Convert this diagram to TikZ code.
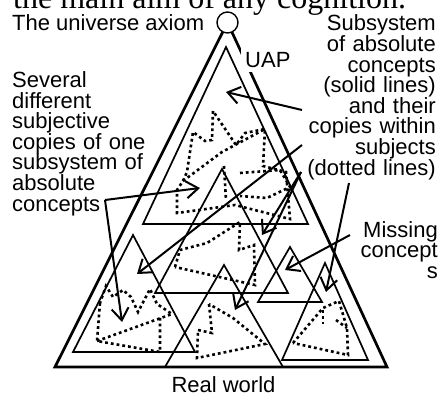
\documentclass[tikz,border=0pt]{standalone}
\usepackage{fontspec}
\setmainfont{Liberation Sans}
\newfontfamily\aimfont{Liberation Serif}
\usetikzlibrary{arrows.meta}
\tikzset{>={Straight Barb[length=12pt,width=17pt]},lbl/.style={font=\fontsize{22}{20.6}\selectfont,inner sep=0pt},big/.style={line width=2.7pt,line join=miter},tri/.style={line width=1.7pt,line join=miter},dots/.style={line width=2.6pt,dash pattern=on 2.8pt off 3pt},arr/.style={->,line width=2pt}}

\begin{document}
\begin{tikzpicture}[x=1pt,y=-1pt]
\useasboundingbox (0,0) rectangle (442,396);
\clip (0,0) rectangle (442,396);
\node[anchor=base west,inner sep=0pt,font=\aimfont\fontsize{32}{32}\selectfont] (aim) at (13,8.5) {the main aim of any cognition.};
% triangles: universe, subsystem and the subjects
\draw[big] (227.5,22.5) -- (55,367) -- (387,367) -- cycle;
\draw[tri] (226,47) -- (143,224) -- (308,224) -- cycle;
\draw[tri] (133,235) -- (73,352) -- (195,352) -- cycle;
\draw[tri] (222,169) -- (155,293) -- (288,293) -- cycle;
\draw[tri] (290,247) -- (258,302) -- (322,302) -- cycle;
\draw[tri] (325,263) -- (282,360) -- (368,360) -- cycle;
\draw[tri] (224,265) -- (165,367) -- (283,367) -- cycle;
% dotted copies
\draw[dots] (213,111) -- (212,140) -- (205,141) -- (193,132) -- (187,172) -- (183,181) -- (177,190) -- (177,213) -- (235,205) -- (290,219) -- (286,172) -- (263,166) -- (265,129) -- (245,133) -- (236,145) -- cycle;
\draw[dots] (183,181) -- (222,152) -- (265,129);
\draw[dots] (224,166) -- (226,200);
\draw[dots] (240,173) -- (280,170) -- (290,187) -- (267,198) -- (240,196);
\draw[dots] (175,267) -- (180,250) -- (207,243) -- (240,222) -- (239,250) -- (254,245) -- (255,285) -- cycle;
\draw[dots] (209,304) -- (212,333) -- (198,330) -- (197,358) -- (265,344) -- (233,318) -- cycle;
\draw[dots] (100,303) -- (97,341) -- (160,352) -- (160,317);
\draw[dots] (97,341) -- (172,314) -- (157,304) -- (150,289) -- (138,312) -- (131,297) -- (123,290) -- (113,297) -- (106,286) -- (100,303);
\draw[dots] (293,343) -- (323,308) -- (339,301) -- (347,328) -- (348,355) -- cycle;
\draw[dots] (323,310) -- (323,326);\draw[dots] (336,320) -- (347,328);
% axiom and labels
\node[circle,draw,line width=1.4pt,fill=white,minimum size=21pt,inner sep=0pt] (axiom) at (227.5,22.5) {};
\node[lbl,anchor=base west] (axiomtext) at (12,31) {The universe axiom};
\node[lbl,anchor=base west,fill=white,inner sep=4.5pt] (uap) at (240.5,67) {UAP};
\node[lbl,anchor=base east,text width=140pt,align=right] (subsys) at (436,31) {Subsystem\\of absolute\\concepts\\(solid lines)\\and their\\copies within\\subjects\\(dotted lines)};
\node[lbl,anchor=base west,text width=135pt,align=left] (several) at (12,87.5) {Several\\different\\subjective\\copies of one\\subsystem of\\absolute\\concepts};
\node[lbl,anchor=base east,text width=90pt,align=right] (missing) at (438,237) {Missing\\concept\\s};
\node[lbl,anchor=base] (real) at (223.5,392.5) {Real world};
% arrows
\coordinate (solid) at (302,110);\coordinate (within) at (302,145);\coordinate (dotted) at (301,172);\coordinate (dotted2) at (349,183);\coordinate (miss) at (350,235);\coordinate (copies) at (105,200);
\draw[arr] (solid) -- (226,92);\draw[arr] (within) -- (137,274);\draw[arr] (dotted) -- (262,235);\draw[arr] (dotted) -- (235,310);\draw[arr] (dotted2) -- (326,292);\draw[arr] (miss) -- (285,270);\draw[arr] (copies) -- (200,188);\draw[arr] (copies) -- (122,322);
\end{tikzpicture}
\end{document}
